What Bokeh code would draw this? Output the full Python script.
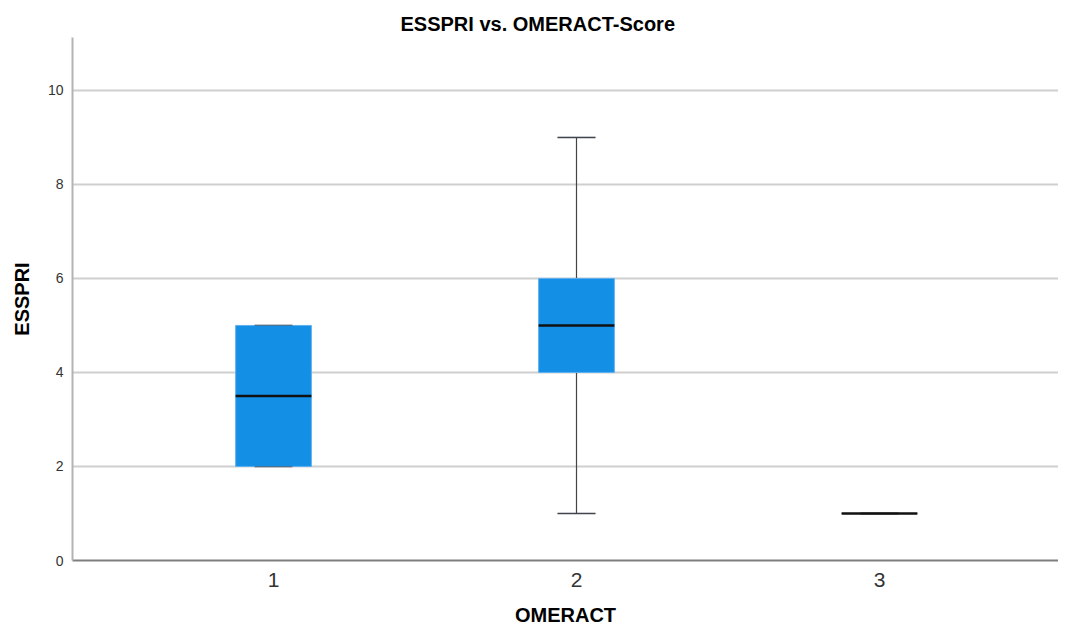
from bokeh.plotting import figure
from bokeh.models import Range1d, FixedTicker, Title
from bokeh.embed import file_html
from bokeh.resources import INLINE

categories = [1, 2, 3]
lower_whisker = [2, 1, 1]
q1 = [2, 4, 1]
median = [3.5, 5, 1]
q3 = [5, 6, 1]
upper_whisker = [5, 9, 1]
y_ticks = [0, 2, 4, 6, 8, 10]

box_w = 0.25
cap_w = 0.125

p = figure(width=1058, height=628, output_backend="svg", toolbar_location=None,
           x_range=Range1d(0.3366, 3.5908), y_range=Range1d(0, 11.125),
           min_border_left=72, min_border_right=0, min_border_top=37, min_border_bottom=67)
p.title = None
p.add_layout(Title(text="ESSPRI vs. OMERACT-Score", align="left", offset=328,
                   text_font="Liberation Sans", text_font_size="20px",
                   text_font_style="bold", text_color="#000000", standoff=5), "above")
p.add_layout(Title(text=" ", text_font_size="4px", standoff=0), "above")
p.outline_line_color = None
p.background_fill_color = "white"

p.xgrid.grid_line_color = None
p.ygrid.grid_line_color = "#cfcfcf"
p.ygrid.grid_line_width = 2
p.ygrid.ticker = FixedTicker(ticks=y_ticks)

p.xaxis.ticker = FixedTicker(ticks=categories)
p.yaxis.ticker = FixedTicker(ticks=y_ticks)
for ax in (p.xaxis, p.yaxis):
    ax.major_tick_line_color = None
    ax.minor_tick_line_color = None
    ax.axis_label_text_font = "Liberation Sans"
    ax.axis_label_text_font_style = "bold"
    ax.axis_label_text_font_size = "20px"
    ax.axis_label_text_color = "#000000"
    ax.major_label_text_font = "Liberation Sans"
    ax.major_label_text_color = "#333333"
p.xaxis.axis_label = "OMERACT"
p.yaxis.axis_label = "ESSPRI"
p.xaxis.axis_line_color = "#7f7f7f"
p.xaxis.axis_line_width = 2
p.yaxis.axis_line_color = "#b3b3b3"
p.yaxis.axis_line_width = 2
p.xaxis.major_label_text_font_size = "21px"
p.yaxis.major_label_text_font_size = "14px"
p.xaxis.major_label_standoff = 6
p.yaxis.major_label_standoff = 3
p.xaxis.axis_label_standoff = 14
p.yaxis.axis_label_standoff = 12

# whiskers
p.segment(x0=categories, y0=q3, x1=categories, y1=upper_whisker, line_color="#444444", line_width=1.2)
p.segment(x0=categories, y0=lower_whisker, x1=categories, y1=q1, line_color="#444444", line_width=1.2)
# caps
p.segment(x0=[c - cap_w / 2 for c in categories], y0=upper_whisker,
          x1=[c + cap_w / 2 for c in categories], y1=upper_whisker, line_color="#444444", line_width=1.5)
p.segment(x0=[c - cap_w / 2 for c in categories], y0=lower_whisker,
          x1=[c + cap_w / 2 for c in categories], y1=lower_whisker, line_color="#444444", line_width=1.5)
# boxes
p.vbar(x=categories, width=box_w, bottom=q1, top=q3, fill_color="#1390e6",
       line_color="#5fb0ee", line_width=1)
# caps on top of boxes (visible at edges)
p.segment(x0=[c - cap_w / 2 for c in categories], y0=upper_whisker,
          x1=[c + cap_w / 2 for c in categories], y1=upper_whisker, line_color="#3a4a5a", line_width=1, line_alpha=0.6)
p.segment(x0=[c - cap_w / 2 for c in categories], y0=lower_whisker,
          x1=[c + cap_w / 2 for c in categories], y1=lower_whisker, line_color="#3a4a5a", line_width=1, line_alpha=0.6)
# medians
p.segment(x0=[c - box_w / 2 for c in categories], y0=median,
          x1=[c + box_w / 2 for c in categories], y1=median, line_color="#111111", line_width=2.5)

open("out.html", "w").write(file_html(p, INLINE))
